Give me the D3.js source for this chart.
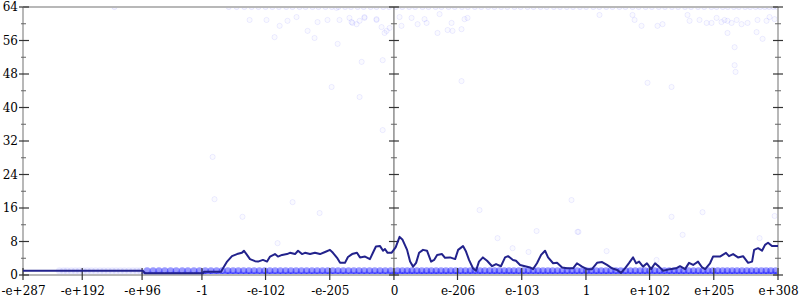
<!DOCTYPE html>
<html><head><meta charset="utf-8">
<script src="https://cdn.jsdelivr.net/npm/d3@7"></script>
<style>body{margin:0;background:#fff}svg{display:block}</style>
</head><body><svg id="c" width="800" height="300"></svg>
<script>
// ---- data ----
const xTickLabels = ["-e+287","-e+192","-e+96","-1","-e-102","-e-205","0","e-206","e-103","1","e+102","e+205","e+308"];
const xTickValues = [-1e287,-1e192,-1e96,-1,-1e-102,-1e-205,0,1e-206,1e-103,1,1e102,1e205,1e308];
const yMajor = [0,8,16,24,32,40,48,56,64];
const yMinor = [4,12,20,28,36,44,52,60];

// x positions in "bit order" units (sign * biased exponent), y = count
const lineX = [-1976,-1337,-1326,-1017,-1012,-921,-916,-889,-863,-836,-810,-799,-783,-767,-740,-724,-698,-676,-660,-634,-618,-596,-570,-554,-527,-511,-490,-474,-447,-421,-394,-367,-341,-325,-303,-287,-261,-245,-223,-197,-181,-154,-128,-112,-96,-74,-58,-48,-34,-13,9,30,46,70,86,102,118,134,155,176,198,214,230,256,272,299,326,342,368,384,400,421,437,453,474,496,523,544,570,592,608,634,650,672,698,725,741,762,784,805,821,848,869,896,922,954,975,1002,1029,1055,1082,1109,1135,1162,1189,1210,1231,1253,1274,1290,1306,1327,1348,1370,1391,1412,1434,1471,1503,1524,1551,1572,1594,1620,1642,1658,1684,1700,1737,1769,1785,1807,1833,1860,1887,1908,1919,1940,1961,1977,1993,2014,2046];
const lineY = [1.0,1.0,0.4,0.4,0.8,0.8,1.2,3.2,4.5,5.0,5.3,5.8,4.8,3.8,3.3,3.2,3.6,3.2,4.4,5.0,4.4,4.8,5.0,5.3,5.0,5.8,5.0,5.3,5.0,5.3,5.0,5.5,6.0,5.3,4.1,2.9,2.9,4.3,5.0,5.3,4.2,4.4,3.8,5.3,6.8,6.9,5.8,6.2,5.3,5.3,6.6,9.1,8.4,6.0,3.2,2.0,2.9,5.3,6.0,5.8,3.2,3.6,4.8,5.0,4.1,4.2,3.8,6.0,6.9,5.6,3.6,1.6,1.0,3.2,4.2,3.4,2.1,2.6,2.1,4.2,4.5,3.6,3.4,2.4,2.1,1.8,1.4,2.8,4.8,5.8,4.2,2.8,2.9,1.8,1.6,1.6,2.8,2.0,1.4,1.4,2.9,3.1,2.4,1.6,1.2,0.5,1.6,2.9,4.2,2.8,3.2,2.0,2.8,1.4,2.8,2.0,1.0,1.4,1.6,2.1,1.4,2.9,2.4,3.2,1.8,1.4,2.8,4.4,4.4,5.3,4.5,5.0,4.2,4.5,2.9,3.2,6.0,6.4,5.8,7.2,7.7,6.9,6.9];

// samples with count 0 and count 1 (x positions)
const zeroX = [-1330,-1298,-1267,-1240,-1206,-1175,-1147,-1113,-1084,-1052,-1020,-991,-962,-930,
  -898,-872,-843,-815,-787,-760,-731,-702,-676,-648,-619,-591,-563,-536,-507,-479,-451,-424,-396,-367,-340,-312,-284,-257,-228,-200,-172,-145,-116,-88,-60,-32,-5,
  6,33,57,84,109,136,160,187,213,238,265,290,317,341,368,394,419,446,470,497,523,548,575,600,626,651,678,704,729,756,781,807,833,858,885,910,937,962,988,1014,1039,1066,1091,1118,1143,1169,1196,1221,1247,1273,1298,1325,1350,1376,1402,1427,1454,1479,1505,1531,1556,1583,1608,1634,1660,1685,1712,1737,1763,1789,1814,1841,1866,1892,1918,1943,1970,1995,2021,2044];
const oneX = [
  -1315,-1283,-1252,-1221,-1190,-1160,-1128,-1098,-1066,-1036,-1005,-975,-945,-915,
  -885,-857,-829,-801,-773,-745,-717,-689,-661,-633,-605,-577,-549,-521,-493,-465,-437,-409,-381,-353,-326,-298,-270,-242,-214,-186,-158,-130,-102,-74,-46,-18,
  19,45,71,96,122,148,174,199,225,251,277,303,329,355,381,407,432,458,484,510,536,561,588,613,639,665,690,716,742,768,794,820,845,871,897,923,949,975,1001,1027,1052,1078,1104,1130,1156,1182,1208,1234,1260,1286,1312,1337,1363,1389,1415,1441,1467,1493,1518,1544,1570,1596,1622,1647,1673,1699,1725,1751,1776,1802,1828,1854,1880,1905,1931,1957,1983,2008,2034];
// rare count-1 samples at the far negative end
const oneXRare = [-1782,-1760,-1741,-1719,-1697,-1676,-1655,-1633,-1612,-1589,-1566,-1545,-1523,-1501,-1480,-1458,-1436,-1413,-1391,-1370,-1350];
// samples with count 64
const topX = [-1489,-880,-838,-797,-758,-722,-684,-648,-613,-574,-541,-503,-471,-434,-402,-365,-331,-296,-260,-229,-193,-161,-124,-93,-57,-26,12,44,81,113,152,184,222,253,291,324,362,394,431,465,502,535,571,604,642,675,712,744,781,814,852,885,921,954,991,1024,1062,1094,1131,1164,1201,1233,1271,1304,1341,1374,1411,1444,1481,1514,1551,1583,1620,1653,1691,1719,1752,1779,1811,1838,1871,1898,1927,1951,1976,1999,2021,2040];
// scattered samples
const sparseX = [-306,-237,-221,-183,-157,-93,-66,-50,-23,30,40,94,126,163,174,232,243,286,307,312,360,376,392,-300,-172,-60,360,-332,-183,
  1095,1271,1282,1319,1404,1431,1564,1575,1628,1666,1692,1719,1745,1761,1777,1799,1826,1852,1884,1932,1937,1964,1985,2001,2028,1777,1815,1815,1820,1351,1479,
  -769,-679,-609,-567,-519,-460,-407,-354,-290,-226,-199,-157,-93,-39,-636,-423,
  -966,-956,-807,-620,-540,-396,456,552,632,717,978,760,1133,1538,1948,946,983,1479,1644,2028,1399,-60];
const sparseY = [63.8,61.4,60.2,60.7,61.6,61.1,59.2,57.8,59.0,61.6,59.5,61.4,59.9,61.1,60.2,57.8,62.3,58.5,60.2,58.3,58.7,61.1,61.4,55.2,50.9,51.3,46.3,44.9,42.5,
  62.1,62.1,60.9,59.5,59.5,59.9,62.1,60.7,60.9,60.2,60.2,61.4,60.4,60.9,60.7,60.2,60.9,59.9,60.2,58.0,60.9,56.4,60.7,61.6,61.1,57.8,54.4,50.1,48.5,45.9,44.9,
  60.9,60.9,59.5,60.7,61.6,58.3,60.4,60.9,60.9,60.4,59.9,61.4,60.9,58.3,56.8,56.6,
  28.2,18.1,13.9,7.6,17.4,14.8,15.5,8.8,6.4,5.5,10.3,10.5,5.7,9.6,8.8,17.9,10.3,13.9,15.0,14.1,3.6,34.6];

// ---- helpers ----
function bitPos(v){
  if (v === 0) return 0;
  const dv = new DataView(new ArrayBuffer(8));
  dv.setFloat64(0, Math.abs(v));
  return Math.sign(v) * (dv.getUint32(0) / 1048576 + dv.getUint32(4) / 4503599627370496);
}

const L = 23, R = 778, T = 7, B = 275;
const svg = d3.select("#c");
const x = d3.scaleLinear().domain([bitPos(xTickValues[0]), bitPos(xTickValues[xTickValues.length-1])]).range([L, R]);
const y = d3.scaleLinear().domain([0, 64]).range([B, T]);
const font = "'DejaVu Serif', serif";

svg.append("defs").append("clipPath").attr("id","clip")
  .append("rect").attr("x",L).attr("y",T).attr("width",R-L).attr("height",B-T);

const plot = svg.append("g").attr("clip-path","url(#clip)");

// scattered points
function dots(xs, ys, r, fo, so){
  plot.append("g").selectAll("circle").data(xs).join("circle")
    .attr("cx", d => x(d)).attr("cy", (d,i) => y(typeof ys === "number" ? ys : ys[i]))
    .attr("r", r).attr("fill","#0000ff").attr("fill-opacity",fo)
    .attr("stroke","#0000ff").attr("stroke-opacity",so).attr("stroke-width",1);
}
dots(sparseX, sparseY, 2.6, 0.02, 0.07);
dots(topX, 64, 2.6, 0.04, 0.08);
dots(oneXRare, 1, 3.6, 0.08, 0);
dots(zeroX, 0, 3.6, 0.4, 0);
dots(oneX, 1, 3.6, 0.4, 0);

// frame
const frame = svg.append("g").attr("stroke","#b8b8b8").attr("stroke-width",2).attr("fill","none");
frame.append("line").attr("x1",L).attr("x2",R).attr("y1",T).attr("y2",T);
frame.append("line").attr("x1",L).attr("x2",R).attr("y1",B).attr("y2",B);
frame.append("line").attr("x1",L).attr("x2",L).attr("y1",T).attr("y2",B);
frame.append("line").attr("x1",R).attr("x2",R).attr("y1",T).attr("y2",B);

// centre line at zero
const x0 = x(bitPos(0));
svg.append("line").attr("x1",x0).attr("x2",x0).attr("y1",T).attr("y2",B)
  .attr("stroke","#555").attr("stroke-width",1);

// y ticks on left, centre, right
function yTicks(cx, major, minor){
  const g = svg.append("g");
  g.selectAll("line.maj").data(yMajor).join("line").attr("class","maj")
    .attr("x1",cx-major[0]).attr("x2",cx+major[1]).attr("y1",d=>y(d)).attr("y2",d=>y(d))
    .attr("stroke","#333").attr("stroke-width",1.2);
  g.selectAll("line.min").data(yMinor).join("line").attr("class","min")
    .attr("x1",cx-minor[0]).attr("x2",cx+minor[1]).attr("y1",d=>y(d)).attr("y2",d=>y(d))
    .attr("stroke","#666").attr("stroke-width",1);
}
yTicks(L,[4,6],[2,3]);
yTicks(x0,[5,5],[3,3]);
yTicks(R,[5,5],[3,3]);

// x ticks
svg.append("g").selectAll("line").data(xTickValues).join("line")
  .attr("x1",d=>x(bitPos(d))).attr("x2",d=>x(bitPos(d)))
  .attr("y1",B-7).attr("y2",B+5).attr("stroke","#333").attr("stroke-width",1.2);

// axis labels
const ya = svg.append("g").attr("transform",`translate(${L},0)`)
  .call(d3.axisLeft(y).tickValues(yMajor).tickSize(0).tickPadding(5));
ya.select(".domain").remove();
ya.selectAll("text").attr("font-family",font).attr("font-size",12).attr("fill","#000");

const xa = svg.append("g").attr("transform",`translate(0,${B})`)
  .call(d3.axisBottom(x).tickValues(xTickValues.map(bitPos)).tickFormat((d,i)=>xTickLabels[i]).tickSize(0).tickPadding(11.5));
xa.select(".domain").remove();
xa.selectAll("text").attr("font-family",font).attr("font-size",12).attr("fill","#000");

// smoothed line
const lineData = lineX.map((d,i)=>[d, lineY[i]]);
svg.append("path").datum(lineData)
  .attr("d", d3.line().x(d=>x(d[0])).y(d=>y(d[1])))
  .attr("fill","none").attr("stroke","#22228c").attr("stroke-width",2).attr("stroke-linejoin","round");
</script>
</body></html>
